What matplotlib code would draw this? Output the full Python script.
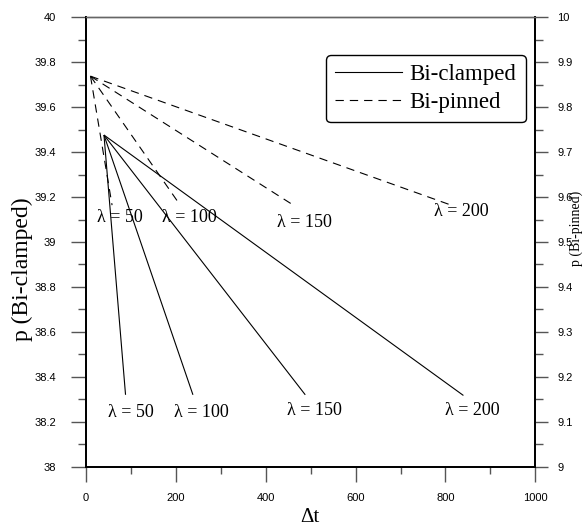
import matplotlib
matplotlib.use("Agg")
import matplotlib.pyplot as plt
from matplotlib.ticker import MultipleLocator
from matplotlib.lines import Line2D

plt.rcParams['lines.scale_dashes'] = False

# ---- data ----
lambdas = [50, 100, 150, 200]
lambda_labels = ["λ = 50", "λ = 100", "λ = 150", "λ = 200"]

# Bi-clamped (left axis): common start point, individual end points
clamped_start_dt = 40
clamped_start_p = 39.476
clamped_end_dt = [88, 238, 488, 840]
clamped_end_p = [38.32, 38.32, 38.32, 38.317]

# Bi-pinned (right axis): common start point, individual end points
pinned_start_dt = 10
pinned_start_p = 9.869
pinned_end_dt = [58, 209, 460, 810]
pinned_end_p = [9.582, 9.583, 9.583, 9.583]

# label positions (data coords of left axis)
clamped_label_dt = [100, 257, 508, 859]
clamped_label_p = [38.243, 38.24, 38.252, 38.252]
pinned_label_dt = [76, 231, 486, 835]
pinned_label_p = [39.111, 39.111, 39.089, 39.134]

serif = "Liberation Serif"
sans = "Liberation Sans"

fig = plt.figure(figsize=(5.84, 5.27), dpi=100)
ax = fig.add_axes([86/584, 1-466.7/527, 449.3/584, 449.4/527])
ax2 = ax.twinx()

lw = 0.8
for i in range(len(lambdas)):
    ax.plot([clamped_start_dt, clamped_end_dt[i]], [clamped_start_p, clamped_end_p[i]],
            color='black', lw=lw, solid_capstyle='butt')
    ax2.plot([pinned_start_dt, pinned_end_dt[i]], [pinned_start_p, pinned_end_p[i]],
             color='black', lw=lw, dashes=(6, 4.3))

for i in range(len(lambdas)):
    ax.text(clamped_label_dt[i], clamped_label_p[i], lambda_labels[i], ha='center', va='center',
            fontsize=13, family=serif)
    ax.text(pinned_label_dt[i], pinned_label_p[i], lambda_labels[i], ha='center', va='center',
            fontsize=13, family=serif)

ax.xaxis.set_major_locator(MultipleLocator(200))
ax.xaxis.set_minor_locator(MultipleLocator(100))
ax.yaxis.set_major_locator(MultipleLocator(0.2))
ax.yaxis.set_minor_locator(MultipleLocator(0.1))
ax2.yaxis.set_major_locator(MultipleLocator(0.1))
ax2.yaxis.set_minor_locator(MultipleLocator(0.05))

ax.set_xlim(0, 1000)
ax.set_ylim(38, 40)
ax2.set_ylim(9, 10)
ax.xaxis.set_major_formatter(lambda v, p: f"{v:g}")
ax.yaxis.set_major_formatter(lambda v, p: f"{round(v, 2):g}")
ax2.yaxis.set_major_formatter(lambda v, p: f"{round(v, 2):g}")

tc = '#555555'
fs_tick = 8
ax.tick_params(axis='y', which='major', direction='out', length=11, width=1, color=tc,
               pad=10.5, labelsize=fs_tick, labelfontfamily=sans)
ax.tick_params(axis='y', which='minor', direction='out', length=6, width=1, color=tc)
ax.tick_params(axis='x', which='major', direction='out', length=11, width=1, color=tc,
               pad=8, labelsize=fs_tick, labelfontfamily=sans)
ax.tick_params(axis='x', which='minor', direction='out', length=5, width=1, color=tc)
ax2.tick_params(axis='y', which='major', direction='out', length=9.5, width=1, color=tc,
                pad=6.5, labelsize=fs_tick, labelfontfamily=sans)
ax2.tick_params(axis='y', which='minor', direction='out', length=6, width=1, color=tc)

for a in (ax, ax2):
    a.spines['left'].set_linewidth(1.3)
    a.spines['bottom'].set_linewidth(1.3)
    a.spines['right'].set_linewidth(1.3)
    a.spines['top'].set_linewidth(1.0)
    a.spines['top'].set_color('#666666')

# legend
handles = [Line2D([], [], color='black', lw=lw),
           Line2D([], [], color='black', lw=lw, dashes=(6, 4.3))]
leg = ax.legend(handles, ["Bi-clamped", "Bi-pinned"], loc='upper right',
                bbox_to_anchor=(0.9786, 0.916), prop={'family': serif, 'size': 16.5},
                fancybox=True, framealpha=1, edgecolor='black', handlelength=2.9,
                handletextpad=0.35, borderpad=0.4, labelspacing=0.3, borderaxespad=0)
leg.get_frame().set_linewidth(1.0)

fig.text(22/584, 1-269/527, "p (Bi-clamped)", rotation=90, ha='center', va='center',
         fontsize=17, family=serif)
fig.text(310/584, 1-518/527, "Δt", ha='center', va='center', fontsize=15, family=serif)
fig.text(576/584, 1-228/527, "p (Bi-pinned)", rotation=90, ha='center', va='center',
         fontsize=10, family=serif)

fig.savefig("out.png", dpi=100)
